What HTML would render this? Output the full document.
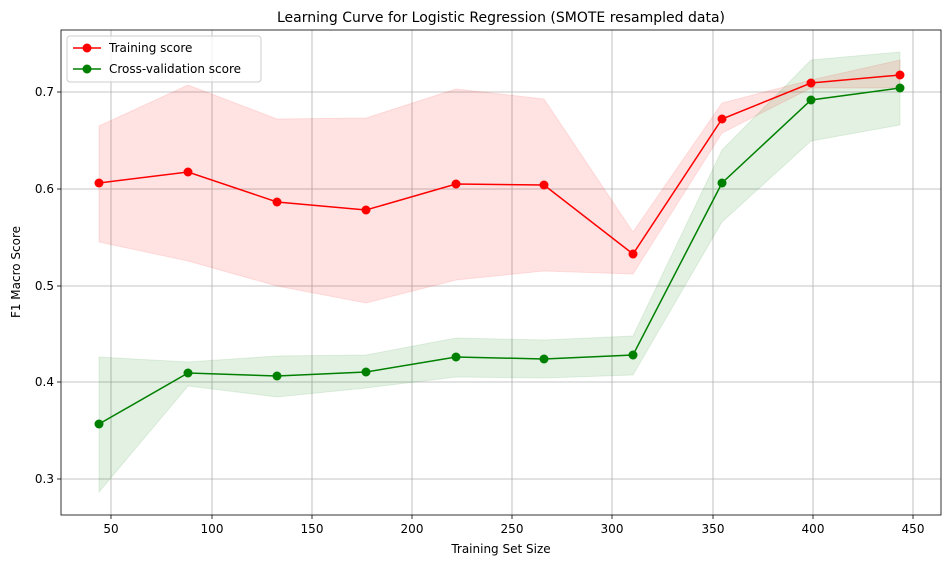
<!DOCTYPE html>
<html><head><meta charset="utf-8"><style>body{margin:0;background:#fff}svg text{font-family:"DejaVu Sans",sans-serif}</style></head><body>
<svg width="950" height="566" xmlns="http://www.w3.org/2000/svg">
<rect width="950" height="566" fill="#fff"/>
<g stroke="#b0b0b0" stroke-width="0.8">
<line x1="111" y1="30" x2="111" y2="515"/><line x1="212" y1="30" x2="212" y2="515"/><line x1="312" y1="30" x2="312" y2="515"/><line x1="412" y1="30" x2="412" y2="515"/><line x1="512" y1="30" x2="512" y2="515"/><line x1="612" y1="30" x2="612" y2="515"/><line x1="713" y1="30" x2="713" y2="515"/><line x1="813" y1="30" x2="813" y2="515"/><line x1="913" y1="30" x2="913" y2="515"/>
<line x1="61" y1="92" x2="941" y2="92"/><line x1="61" y1="189" x2="941" y2="189"/><line x1="61" y1="286" x2="941" y2="286"/><line x1="61" y1="382" x2="941" y2="382"/><line x1="61" y1="479" x2="941" y2="479"/>
</g>
<polygon fill="#ff0000" fill-opacity="0.11" stroke="#ff0000" stroke-opacity="0.1" points="99,126 188,85 277,119 366,118 456,89 544,99 633,232 722,103 811,80 900,60 900,88 811,88 722,133 633,274 544,271 456,280 366,303 277,286 188,261 99,242"/>
<polygon fill="#008000" fill-opacity="0.11" stroke="#008000" stroke-opacity="0.1" points="99,357 188,362 277,356 366,355 456,338 544,340 633,336 722,150 811,60 900,52 900,125 811,141 722,222 633,375 544,378 456,377 366,388 277,397 188,386 99,492"/>
<polyline fill="none" stroke="#ff0000" stroke-width="1.5" points="99,183 188,172 277,202 366,210 456,184 544,185 633,254 722,119 811,83 900,75"/>
<polyline fill="none" stroke="#008000" stroke-width="1.5" points="99,424 188,373 277,376 366,372 456,357 544,359 633,355 722,183 811,100 900,88"/>
<g fill="#ff0000"><circle cx="99" cy="183" r="4.5"/><circle cx="188" cy="172" r="4.5"/><circle cx="277" cy="202" r="4.5"/><circle cx="366" cy="210" r="4.5"/><circle cx="456" cy="184" r="4.5"/><circle cx="544" cy="185" r="4.5"/><circle cx="633" cy="254" r="4.5"/><circle cx="722" cy="119" r="4.5"/><circle cx="811" cy="83" r="4.5"/><circle cx="900" cy="75" r="4.5"/></g>
<g fill="#008000"><circle cx="99" cy="424" r="4.5"/><circle cx="188" cy="373" r="4.5"/><circle cx="277" cy="376" r="4.5"/><circle cx="366" cy="372" r="4.5"/><circle cx="456" cy="357" r="4.5"/><circle cx="544" cy="359" r="4.5"/><circle cx="633" cy="355" r="4.5"/><circle cx="722" cy="183" r="4.5"/><circle cx="811" cy="100" r="4.5"/><circle cx="900" cy="88" r="4.5"/></g>
<rect x="61" y="30" width="880" height="485" fill="none" stroke="#000" stroke-width="0.8"/>
<g stroke="#000" stroke-width="0.8">
<line x1="111" y1="515" x2="111" y2="519"/><line x1="212" y1="515" x2="212" y2="519"/><line x1="312" y1="515" x2="312" y2="519"/><line x1="412" y1="515" x2="412" y2="519"/><line x1="512" y1="515" x2="512" y2="519"/><line x1="612" y1="515" x2="612" y2="519"/><line x1="713" y1="515" x2="713" y2="519"/><line x1="813" y1="515" x2="813" y2="519"/><line x1="913" y1="515" x2="913" y2="519"/>
<line x1="57" y1="92" x2="61" y2="92"/><line x1="57" y1="189" x2="61" y2="189"/><line x1="57" y1="286" x2="61" y2="286"/><line x1="57" y1="382" x2="61" y2="382"/><line x1="57" y1="479" x2="61" y2="479"/>
</g>
<g font-size="12" fill="#000" text-anchor="middle">
<text x="111" y="533">50</text><text x="212" y="533">100</text><text x="312" y="533">150</text><text x="412" y="533">200</text><text x="512" y="533">250</text><text x="612" y="533">300</text><text x="713" y="533">350</text><text x="813" y="533">400</text><text x="913" y="533">450</text>
</g>
<g font-size="12" fill="#000" text-anchor="end">
<text x="54" y="96">0.7</text><text x="54" y="193">0.6</text><text x="54" y="290">0.5</text><text x="54" y="386">0.4</text><text x="54" y="483">0.3</text>
</g>
<text x="501" y="553" font-size="12" text-anchor="middle">Training Set Size</text>
<text transform="translate(20,272) rotate(-90)" font-size="12" text-anchor="middle">F1 Macro Score</text>
<text x="501" y="22" font-size="14" text-anchor="middle">Learning Curve for Logistic Regression (SMOTE resampled data)</text>
<rect x="67" y="36" width="194" height="46" rx="3" fill="#fff" fill-opacity="0.8" stroke="#ccc"/>
<line x1="73" y1="48" x2="101" y2="48" stroke="#ff0000" stroke-width="1.5"/><circle cx="87" cy="48" r="4.5" fill="#ff0000"/>
<text x="109" y="52" font-size="12">Training score</text>
<line x1="73" y1="69" x2="101" y2="69" stroke="#008000" stroke-width="1.5"/><circle cx="87" cy="69" r="4.5" fill="#008000"/>
<text x="109" y="73" font-size="12">Cross-validation score</text>
</svg>
</body></html>
